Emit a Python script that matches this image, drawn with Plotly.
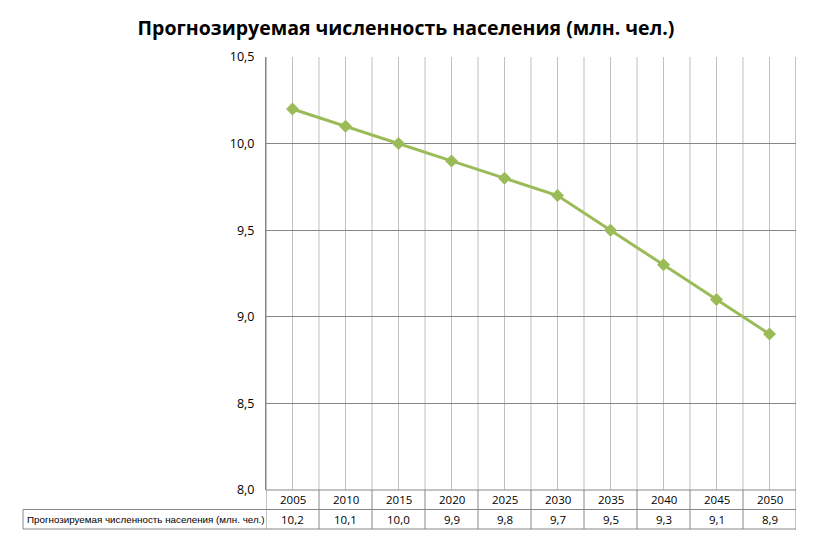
import plotly.graph_objects as go

# data
years = ["2005", "2010", "2015", "2020", "2025", "2030", "2035", "2040", "2045", "2050"]
population = [10.2, 10.1, 10.0, 9.9, 9.8, 9.7, 9.5, 9.3, 9.1, 8.9]
series_name = "Прогнозируемая численность населения (млн. чел.)"
y_ticks = [8.0, 8.5, 9.0, 9.5, 10.0, 10.5]

# page puts the figure 8px in from the top-left corner
W, H = 813, 542
ml, mr, mt, mb = 258, 25, 49, 60
plot_h = H - mt - mb
plot_w = W - ml - mr
row_h = 19.5 / plot_h  # one table row in paper units

def fmt(v):
    return ("%.1f" % v).replace(".", ",")

n = len(years)
xs = list(range(n))

fig = go.Figure()
fig.add_trace(go.Scatter(
    x=xs, y=population, mode="lines+markers",
    line=dict(color="#9BBB59", width=3),
    marker=dict(symbol="diamond", size=10, color="#9BBB59"),
    showlegend=False, cliponaxis=False,
))

grid_col = "#BFBFBF"
dark = "#868686"
font = "Open Sans, Liberation Sans, sans-serif"
narrow = "Liberation Sans, sans-serif"

shapes = []
annotations = []

# vertical lines at category boundaries (data table borders extend up)
for i in range(n + 1):
    b = i - 0.5
    shapes.append(dict(type="line", xref="x", yref="paper", x0=b, x1=b, y0=1, y1=0,
                       line=dict(color=grid_col if 0 < i < n else dark, width=1), layer="below"))
    shapes.append(dict(type="line", xref="x", yref="paper", x0=b, x1=b, y0=0, y1=-2 * row_h,
                       line=dict(color=dark, width=1)))

# horizontal table borders
label_left = (15 - ml) / plot_w
for k, y in enumerate([0, -row_h, -2 * row_h]):
    x0 = label_left if k > 0 else 0
    shapes.append(dict(type="line", xref="paper", yref="paper", x0=x0, x1=1, y0=y, y1=y,
                       line=dict(color=dark, width=1)))
shapes.append(dict(type="line", xref="paper", yref="paper", x0=label_left, x1=label_left,
                   y0=-row_h, y1=-2 * row_h, line=dict(color=dark, width=1)))

# table text
for i, (yr, v) in enumerate(zip(years, population)):
    annotations.append(dict(x=i, y=-row_h / 2, xref="x", yref="paper", text=yr, showarrow=False,
                            xanchor="center", yanchor="middle",
                            font=dict(size=11.5, color="#000000", family=font)))
    annotations.append(dict(x=i, y=-1.5 * row_h, xref="x", yref="paper", text=fmt(v), showarrow=False,
                            xanchor="center", yanchor="middle",
                            font=dict(size=11.5, color="#000000", family=font)))
annotations.append(dict(x=label_left + 0.003, y=-1.5 * row_h, xref="paper", yref="paper",
                        xanchor="left", yanchor="middle", text=series_name, showarrow=False,
                        font=dict(size=9.8, color="#000000", family=narrow)))

fig.update_layout(
    width=W, height=H,
    margin=dict(l=ml, r=mr, t=mt, b=mb, autoexpand=False),
    paper_bgcolor="white", plot_bgcolor="white",
    title=dict(text="<b>" + series_name + "</b>", x=(406 - 8) / W, xanchor="center",
               y=1 - 20 / H, yanchor="middle",
               font=dict(size=19.5, color="#000000", family=font)),
    xaxis=dict(range=[-0.5, n - 0.5], tickvals=xs, showticklabels=False, automargin=False,
               showgrid=True, gridcolor=grid_col, gridwidth=1, zeroline=False),
    yaxis=dict(range=[8.0, 10.5], tickvals=y_ticks, ticktext=[fmt(t) for t in y_ticks],
               showgrid=True, gridcolor=dark, gridwidth=1, zeroline=False, automargin=False,
               showline=True, linecolor=dark, ticks="", ticklen=0, ticklabelstandoff=8,
               tickfont=dict(size=12.5, color="#000000", family=font)),
    shapes=shapes, annotations=annotations,
)

fig.write_html("out.html")
